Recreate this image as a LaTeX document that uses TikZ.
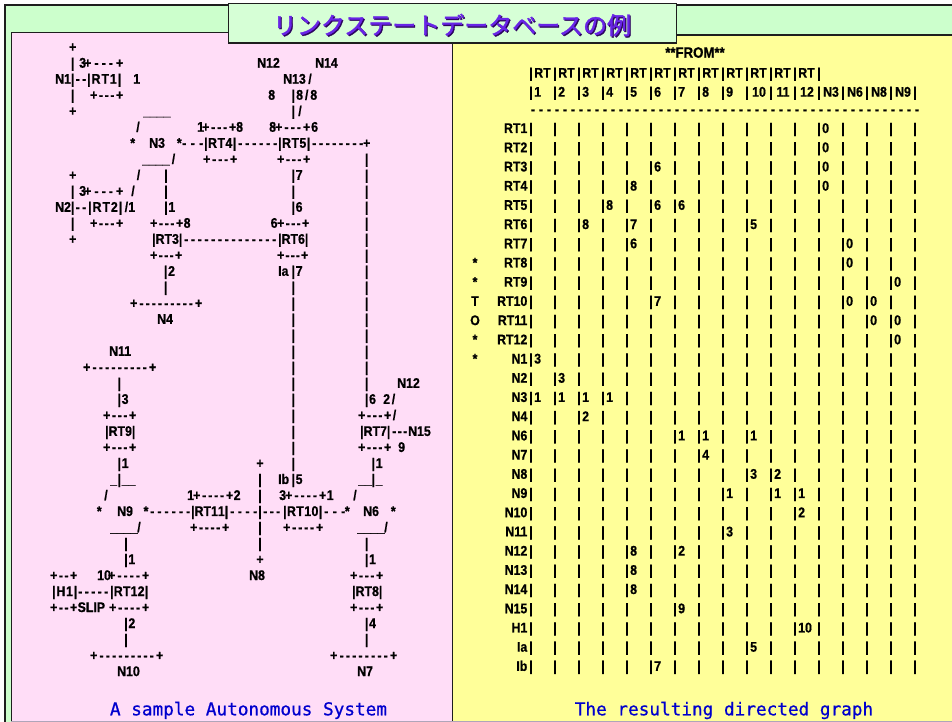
\documentclass[tikz,border=0pt]{standalone}
\usepackage{fontspec}
\newfontfamily\artfam{Liberation Sans}[FakeStretch=0.88,BoldFeatures={FakeBold=0.7}]
\newfontfamily\capfam{DejaVu Sans Mono}[FakeBold=0.7]
\newfontfamily\cjkfam{Noto Sans CJK JP}[FakeBold=1.6]
\definecolor{outergreen}{RGB}{204,255,204}
\definecolor{titlegreen}{RGB}{214,255,214}
\definecolor{pinkbg}{RGB}{255,221,247}
\definecolor{yellowbg}{RGB}{255,255,153}
\definecolor{framedark}{RGB}{30,30,30}
\definecolor{titleviolet}{RGB}{104,36,230}
\definecolor{titleshadow}{RGB}{45,5,95}
\definecolor{capblue}{RGB}{0,0,205}
\definecolor{bottomgray}{RGB}{175,165,185}
\makeatletter
\newcommand\spreadit[1]{\let\sp@first\relax\@tfor\sp@c:=#1\do{\ifx\sp@first\relax\let\sp@first\empty\else\hfil\fi\sp@c}}
\makeatother
\newcounter{fr}
\tikzset{art/.style={inner sep=0pt,font=\artfam\bfseries\fontsize{14}{16}\selectfont,text=black}}
% west-anchored text at x, art line k
\newcommand\Tw[3]{\stepcounter{fr}\node[art,anchor=base west] (f\thefr) at (#1,{51.7+16.01*#2}) {#3};}
% centred text at x, art line k
\newcommand\Tc[3]{\stepcounter{fr}\node[art,anchor=base] (f\thefr) at (#1,{51.7+16.01*#2}) {#3};}
% text spread from x1 to x2, art line k
\newcommand\Ts[4]{\stepcounter{fr}\node[art,anchor=base west] (f\thefr) at (#1,{51.7+16.01*#3}) {\makebox[\dimexpr #2pt-#1pt\relax][s]{\spreadit{#4}}};}
% bar at x followed by a label
\newcommand\Tb[3]{\Tc{#1}{#2}{|}\stepcounter{fr}\node[art,anchor=base west] (f\thefr) at ({#1+2.2},{51.7+16.01*#2}) {#3};}
\begin{document}
\begin{tikzpicture}[x=1pt,y=-1pt]
\useasboundingbox (0,0) rectangle (952,722);
\fill[white] (0,0) rectangle (952,722);
% frames
\draw[framedark,line width=2.2pt,fill=outergreen] (4.8,4.8) rectangle (965,735);
\fill[pinkbg] (11,32) rectangle (452.7,722);
\fill[yellowbg] (452.7,35.3) rectangle (952,722);
\draw[framedark,line width=0.8pt] (11,722) -- (11,32) -- (452.7,32);
\draw[framedark,line width=1.8pt] (452.7,35.3) -- (952,35.3);
\draw[framedark,line width=1.3pt] (452.7,35.3) -- (452.7,722);
\draw[bottomgray,line width=1pt] (11,721.3) -- (952,721.3);
% title
\draw[framedark,line width=1.2pt,fill=titlegreen] (228.5,3.5) rectangle (676.5,43);
\node[inner sep=0pt,anchor=base,font=\cjkfam\fontsize{24}{28}\selectfont,text=titleshadow] (titleshadow) at (453.2,35.5) {リンクステートデータベースの例};
\node[inner sep=0pt,anchor=base,font=\cjkfam\fontsize{24}{28}\selectfont,text=titleviolet] (title) at (452,34.3) {リンクステートデータベースの例};
% ===== left: the autonomous system =====
% line 0
\Tc{72.7}{0}{+}
% line 1
\Tc{72.7}{1}{|}
\Tw{79}{1}{3}
\Ts{84}{123}{1}{+---+}
\Tw{257}{1}{N12}
\Tw{315}{1}{N14}
% line 2
\Tw{55}{2}{N1}
\Tc{72.7}{2}{|}
\Ts{75.5}{86}{2}{--}
\Ts{87}{121}{2}{|RT1|}
\Tc{136.7}{2}{1}
\Tw{283}{2}{N13}
\Tc{310}{2}{/}
% line 3
\Tc{72.7}{3}{|}
\Ts{90}{123}{3}{+---+}
\Tc{271.7}{3}{8}
\Tc{293.3}{3}{|}
\Ts{296}{317}{3}{8/8}
% line 4
\Tc{72.7}{4}{+}
\Tw{143}{4}{\_\_\_\_}
\Tc{293.3}{4}{|}
\Tc{300}{4}{/}
% line 5
\Tc{138}{5}{/}
\Tw{197}{5}{1}
\Ts{202}{236}{5}{+---+}
\Tw{236}{5}{8}
\Tw{269}{5}{8}
\Ts{275}{310}{5}{+---+}
\Tw{311}{5}{6}
% line 6
\Tc{132.7}{6}{*}
\Tw{149}{6}{N3}
\Tc{179.3}{6}{*}
\Ts{182}{203}{6}{---}
\Ts{204}{236}{6}{|RT4|}
\Ts{238}{277}{6}{------}
\Ts{278}{310}{6}{|RT5|}
\Ts{312}{363}{6}{--------}
\Tc{366.7}{6}{+}
% line 7
\Tw{142}{7}{\_\_\_\_}
\Tc{173.5}{7}{/}
\Ts{203}{237}{7}{+---+}
\Ts{277}{310}{7}{+---+}
\Tc{366.7}{7}{|}
% line 8
\Tc{72.7}{8}{+}
\Tc{138.5}{8}{/}
\Tc{166}{8}{|}
\Tb{293.3}{8}{7}
\Tc{366.7}{8}{|}
% line 9
\Tc{72.7}{9}{|}
\Tw{79}{9}{3}
\Ts{84}{123}{9}{+---+}
\Tc{133}{9}{/}
\Tc{166}{9}{|}
\Tc{293.3}{9}{|}
\Tc{366.7}{9}{|}
% line 10
\Tw{55}{10}{N2}
\Tc{72.7}{10}{|}
\Ts{75.5}{86}{10}{--}
\Ts{88}{122}{10}{|RT2|}
\Ts{124.5}{135}{10}{/1}
\Tb{166}{10}{1}
\Tb{293.3}{10}{6}
\Tc{366.7}{10}{|}
% line 11
\Tc{72.7}{11}{|}
\Ts{90}{123}{11}{+---+}
\Ts{150}{183}{11}{+---+}
\Tw{183.5}{11}{8}
\Tw{270.5}{11}{6}
\Ts{277}{309}{11}{+---+}
\Tc{366.7}{11}{|}
% line 12
\Tc{72.7}{12}{+}
\Ts{152}{182}{12}{|RT3|}
\Ts{184}{276}{12}{--------------}
\Ts{278}{308}{12}{|RT6|}
\Tc{366.7}{12}{|}
% line 13
\Ts{150}{182}{13}{+---+}
\Ts{277}{308}{13}{+---+}
\Tc{366.7}{13}{|}
% line 14
\Tb{165.7}{14}{2}
\Tw{278}{14}{Ia}
\Tb{293.3}{14}{7}
\Tc{366.7}{14}{|}
% line 15
\Tc{165.7}{15}{|}
\Tc{293.3}{15}{|}
\Tc{366.7}{15}{|}
% line 16
\Ts{130}{202}{16}{+---------+}
\Tc{293.3}{16}{|}
\Tc{366.7}{16}{|}
% line 17
\Tw{157}{17}{N4}
\Tc{293.3}{17}{|}
\Tc{366.7}{17}{|}
% line 18
\Tc{293.3}{18}{|}
\Tc{366.7}{18}{|}
% line 19
\Tw{109}{19}{N11}
\Tc{293.3}{19}{|}
\Tc{366.7}{19}{|}
% line 20
\Ts{83}{156}{20}{+---------+}
\Tc{293.3}{20}{|}
\Tc{366.7}{20}{|}
% line 21
\Tc{119.3}{21}{|}
\Tc{293.3}{21}{|}
\Tc{366.7}{21}{|}
\Tw{397}{21}{N12}
% line 22
\Tb{119.3}{22}{3}
\Tc{293.3}{22}{|}
\Tb{366.7}{22}{6}
\Ts{383}{395}{22}{2/}
% line 23
\Ts{103}{136}{23}{+---+}
\Tc{293.3}{23}{|}
\Ts{358}{391}{23}{+---+}
\Tc{394.5}{23}{/}
% line 24
\Ts{105}{135}{24}{|RT9|}
\Tc{293.3}{24}{|}
\Ts{360}{390}{24}{|RT7|}
\Ts{392}{407}{24}{---}
\Tw{408}{24}{N15}
% line 25
\Ts{103}{136}{25}{+---+}
\Tc{293.3}{25}{|}
\Ts{358}{391}{25}{+---+}
\Tw{398}{25}{9}
% line 26
\Tb{119.3}{26}{1}
\Tc{260}{26}{+}
\Tc{293.3}{26}{|}
\Tb{373.3}{26}{1}
% line 27
\Tw{110}{27}{\_}
\Tc{119.3}{27}{|}
\Tw{121.5}{27}{\_\_}
\Tc{260}{27}{|}
\Tw{278}{27}{Ib}
\Tb{293.3}{27}{5}
\Tw{358}{27}{\_\_}
\Tc{373.3}{27}{|}
\Tw{375.5}{27}{\_}
% line 28
\Tc{106}{28}{/}
\Tw{187}{28}{1}
\Ts{193}{233}{28}{+----+}
\Tw{233.5}{28}{2}
\Tc{260}{28}{|}
\Tw{279}{28}{3}
\Ts{285}{326}{28}{+----+}
\Tw{326.5}{28}{1}
\Tc{355}{28}{/}
% line 29
\Tc{99.3}{29}{*}
\Tw{117}{29}{N9}
\Tc{146}{29}{*}
\Ts{150}{190}{29}{------}
\Ts{191}{228}{29}{|RT11|}
\Ts{230}{257}{29}{----}
\Tc{260}{29}{|}
\Ts{263}{280}{29}{---}
\Ts{283}{322}{29}{|RT10|}
\Ts{324}{345}{29}{---}
\Tc{347.3}{29}{*}
\Tw{363}{29}{N6}
\Tc{393.3}{29}{*}
% line 30
\Tw{110}{30}{\_\_\_\_}
\Tc{139}{30}{/}
\Ts{190}{229}{30}{+----+}
\Tc{260}{30}{|}
\Ts{283}{323}{30}{+----+}
\Tw{357}{30}{\_\_\_\_}
\Tc{386}{30}{/}
% line 31
\Tc{126}{31}{|}
\Tc{260}{31}{|}
\Tc{366.7}{31}{|}
% line 32
\Tb{126}{32}{1}
\Tc{260}{32}{+}
\Tb{366.7}{32}{1}
% line 33
\Ts{50}{77}{33}{+--+}
\Tw{97}{33}{10}
\Ts{108}{149}{33}{+----+}
\Tw{249}{33}{N8}
\Ts{350}{383}{33}{+---+}
% line 34
\Ts{52}{77}{34}{|H1|}
\Ts{78}{108}{34}{-----}
\Ts{110}{148}{34}{|RT12|}
\Ts{352}{382}{34}{|RT8|}
% line 35
\Ts{50}{77}{35}{+--+}
\Tw{77.5}{35}{SLIP}
\Ts{109}{149}{35}{+----+}
\Ts{350}{383}{35}{+---+}
% line 36
\Tb{126}{36}{2}
\Tb{366.7}{36}{4}
% line 37
\Tc{126}{37}{|}
\Tc{366.7}{37}{|}
% line 38
\Ts{90}{163}{38}{+---------+}
\Ts{330}{397}{38}{+--------+}
% line 39
\Tw{117}{39}{N10}
\Tw{357}{39}{N7}
% caption left
\node[inner sep=0pt,anchor=base,font=\capfam\fontsize{17.7}{20}\selectfont,text=capblue] (capL) at (248.5,715.3) {A sample Autonomous System};
% ===== right: the directed graph table =====
\node[art,anchor=base,font=\artfam\bfseries\fontsize{15}{17}\selectfont] (from) at (695,57.7) {**FROM**};
\foreach \c in {0,...,12} \node[art,anchor=base] (hb\c) at ({531+24*\c},77.7) {|};
\foreach \c in {0,...,11} \node[art,anchor=base] (hrt\c) at ({542.5+24*\c},77.7) {RT};
\foreach \c in {0,...,16} \node[art,anchor=base] (hc\c) at ({531+24*\c},96.7) {|};
\foreach \c in {1,...,9} \node[art,anchor=base west] (hn\c) at ({531+24*(\c-1)+3},96.7) {\c};
\foreach \t [count=\c from 9] in {10,11,12,N3,N6,N8,N9} \node[art,anchor=base] (hm\c) at ({543+24*\c},96.7) {\t};
\foreach \i in {0,...,48} \node[art,anchor=base] (dash\i) at ({533+8*\i},114) {-};
\foreach \lab [count=\r from 0] in {RT1,RT2,RT3,RT4,RT5,RT6,RT7,RT8,RT9,RT10,RT11,RT12,N1,N2,N3,N4,N6,N7,N8,N9,N10,N11,N12,N13,N14,N15,H1,Ia,Ib}
  \node[art,anchor=base east] (row\r) at (527.5,{133+19.21*\r}) {\lab};
\foreach \r in {0,...,28} \foreach \c in {0,...,16}
  \node[art,anchor=base] (bar\r-\c) at ({531+24*\c},{133+19.21*\r}) {|};
\foreach \c/\r/\v in {13/0/0,13/1/0,6/2/6,13/2/0,5/3/8,13/3/0,4/4/8,6/4/6,7/4/6,3/5/8,5/5/7,10/5/5,5/6/6,14/6/0,14/7/0,16/8/0,6/9/7,14/9/0,15/9/0,15/10/0,16/10/0,16/11/0,1/12/3,2/13/3,1/14/1,2/14/1,3/14/1,4/14/1,3/15/2,7/16/1,8/16/1,10/16/1,8/17/4,10/18/3,11/18/2,9/19/1,11/19/1,12/19/1,12/20/2,9/21/3,5/22/8,7/22/2,5/23/8,5/24/8,7/25/9,12/26/10,10/27/5,6/28/7}
  \node[art,anchor=base west] (val\r-\c) at ({531+24*(\c-1)+3},{133+19.21*\r}) {\v};
\foreach \m/\r in {*/7,*/8,T/9,O/10,*/11,*/12}
  \node[art,anchor=base] (mk\r) at (475,{133+19.21*\r}) {\m};
% caption right
\node[inner sep=0pt,anchor=base,font=\capfam\fontsize{17.7}{20}\selectfont,text=capblue] (capR) at (724,715.3) {The resulting directed graph};
\end{tikzpicture}
\end{document}
